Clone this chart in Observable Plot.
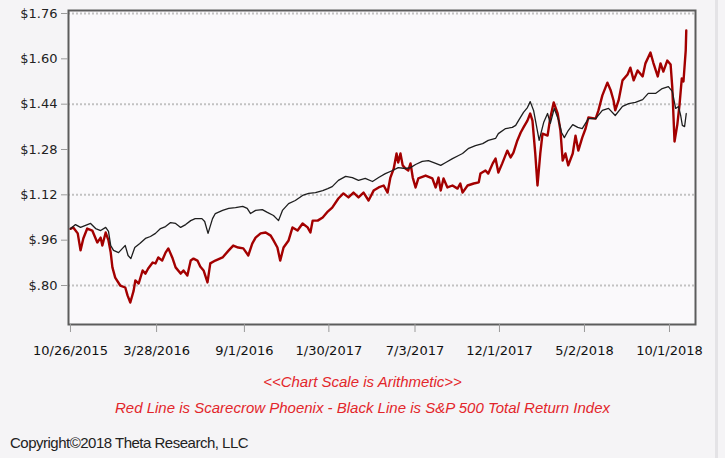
<!DOCTYPE html>
<html>
<head>
<meta charset="utf-8">
<script src="https://cdn.jsdelivr.net/npm/d3@7"></script>
<script src="https://cdn.jsdelivr.net/npm/@observablehq/plot@0.6"></script>
<style>
  html, body { margin: 0; padding: 0; }
  body { width: 725px; height: 458px; background: #f5f4f6; position: relative; overflow: hidden; }
  #chart { position: absolute; left: 0; top: 0; }
  .cap { position: absolute; left: 0; width: 725px; text-align: center; font-family: "Liberation Sans", Arial, sans-serif; font-style: italic; font-size: 15px; color: #e3262b; white-space: nowrap; }
  #copy { position: absolute; left: 10px; top: 434px; font-family: "Liberation Sans", Arial, sans-serif; font-size: 15px; letter-spacing: -0.5px; color: #222; white-space: nowrap; }
  #edge { position: absolute; left: 715px; top: 0; width: 3px; height: 458px; background: #e4e3e6; }
</style>
</head>
<body>
<div id="chart"></div>
<div class="cap" id="cap1" style="top:373px">&lt;&lt;Chart Scale is Arithmetic&gt;&gt;</div>
<div class="cap" id="cap2" style="top:399px">Red Line is Scarecrow Phoenix - Black Line is S&amp;P 500 Total Return Index</div>
<div id="copy">Copyright©2018 Theta Research, LLC</div>
<div id="edge"></div>
<script>
// S&P 500 Total Return Index (black)
const spDates = ["2015-10-26","2015-11-04","2015-11-13","2015-11-22","2015-12-01","2015-12-10","2015-12-19","2015-12-28","2016-01-02","2016-01-06","2016-01-11","2016-01-20","2016-01-27","2016-02-01","2016-02-06","2016-02-11","2016-02-18","2016-02-27","2016-03-08","2016-03-17","2016-03-26","2016-04-04","2016-04-13","2016-04-22","2016-05-01","2016-05-10","2016-05-19","2016-05-28","2016-06-05","2016-06-17","2016-06-22","2016-06-28","2016-07-06","2016-07-11","2016-07-24","2016-08-04","2016-08-16","2016-08-29","2016-09-06","2016-09-12","2016-09-21","2016-10-03","2016-10-12","2016-10-23","2016-11-01","2016-11-08","2016-11-19","2016-12-01","2016-12-14","2016-12-25","2017-01-06","2017-01-19","2017-01-28","2017-02-05","2017-02-16","2017-03-01","2017-03-13","2017-03-24","2017-04-05","2017-04-18","2017-04-29","2017-05-11","2017-05-24","2017-06-03","2017-06-16","2017-06-25","2017-07-04","2017-07-16","2017-07-27","2017-08-09","2017-08-18","2017-08-27","2017-09-08","2017-09-19","2017-09-26","2017-10-07","2017-10-19","2017-11-01","2017-11-11","2017-11-24","2017-11-29","2017-12-12","2017-12-24","2017-12-30","2018-01-04","2018-01-13","2018-01-20","2018-01-25","2018-01-31","2018-02-05","2018-02-10","2018-02-18","2018-02-25","2018-03-02","2018-03-09","2018-03-17","2018-03-22","2018-03-27","2018-04-03","2018-04-11","2018-04-20","2018-04-28","2018-05-09","2018-05-22","2018-06-03","2018-06-14","2018-06-26","2018-07-09","2018-07-20","2018-08-01","2018-08-14","2018-08-24","2018-09-06","2018-09-18","2018-09-29","2018-10-06","2018-10-12","2018-10-17","2018-10-21","2018-10-24","2018-10-28","2018-10-31"];
const spValues = [1.000,1.015,1.005,1.012,1.019,1.001,0.994,1.005,0.991,0.941,0.924,0.916,0.931,0.941,0.906,0.895,0.934,0.948,0.966,0.973,0.984,1.001,1.008,1.022,1.019,1.005,1.015,1.029,1.036,1.036,1.026,0.984,1.036,1.054,1.065,1.072,1.075,1.079,1.072,1.054,1.065,1.068,1.058,1.047,1.029,1.065,1.089,1.100,1.118,1.125,1.128,1.135,1.142,1.149,1.171,1.185,1.181,1.171,1.178,1.167,1.181,1.195,1.206,1.216,1.213,1.216,1.227,1.238,1.241,1.231,1.224,1.234,1.248,1.259,1.266,1.284,1.294,1.301,1.312,1.319,1.336,1.354,1.358,1.365,1.382,1.411,1.428,1.449,1.418,1.365,1.312,1.375,1.407,1.372,1.425,1.382,1.340,1.322,1.347,1.368,1.358,1.354,1.389,1.389,1.418,1.425,1.400,1.432,1.442,1.446,1.456,1.478,1.478,1.495,1.502,1.485,1.425,1.432,1.400,1.365,1.361,1.407];

// Scarecrow Phoenix (red)
const phxDates = ["2015-10-26","2015-10-31","2015-11-08","2015-11-13","2015-11-18","2015-11-25","2015-12-04","2015-12-13","2015-12-19","2015-12-22","2015-12-28","2016-01-02","2016-01-06","2016-01-09","2016-01-14","2016-01-23","2016-02-01","2016-02-05","2016-02-10","2016-02-16","2016-02-19","2016-02-25","2016-03-03","2016-03-08","2016-03-13","2016-03-21","2016-03-26","2016-03-31","2016-04-07","2016-04-13","2016-04-18","2016-04-25","2016-05-01","2016-05-10","2016-05-15","2016-05-22","2016-05-28","2016-06-02","2016-06-09","2016-06-14","2016-06-20","2016-06-27","2016-07-02","2016-07-11","2016-07-24","2016-08-04","2016-08-12","2016-08-21","2016-08-30","2016-09-08","2016-09-15","2016-09-21","2016-09-30","2016-10-09","2016-10-18","2016-10-23","2016-10-30","2016-11-04","2016-11-10","2016-11-19","2016-11-26","2016-12-05","2016-12-14","2016-12-23","2016-12-28","2017-01-01","2017-01-10","2017-01-19","2017-01-28","2017-02-05","2017-02-16","2017-02-25","2017-03-06","2017-03-15","2017-03-24","2017-04-02","2017-04-11","2017-04-20","2017-04-29","2017-05-08","2017-05-15","2017-05-20","2017-05-26","2017-05-31","2017-06-03","2017-06-07","2017-06-11","2017-06-16","2017-06-21","2017-06-25","2017-06-29","2017-07-04","2017-07-09","2017-07-22","2017-08-03","2017-08-09","2017-08-14","2017-08-18","2017-08-23","2017-08-30","2017-09-08","2017-09-17","2017-09-22","2017-09-26","2017-10-05","2017-10-16","2017-10-25","2017-10-28","2017-11-06","2017-11-11","2017-11-19","2017-11-24","2017-11-29","2017-12-06","2017-12-15","2017-12-21","2017-12-26","2018-01-02","2018-01-08","2018-01-13","2018-01-20","2018-01-25","2018-01-29","2018-02-03","2018-02-07","2018-02-12","2018-02-16","2018-02-25","2018-03-02","2018-03-08","2018-03-15","2018-03-20","2018-03-24","2018-03-29","2018-04-03","2018-04-11","2018-04-16","2018-04-21","2018-04-28","2018-05-04","2018-05-09","2018-05-22","2018-05-27","2018-06-03","2018-06-12","2018-06-18","2018-06-23","2018-06-26","2018-07-02","2018-07-09","2018-07-18","2018-07-23","2018-07-29","2018-08-05","2018-08-14","2018-08-19","2018-08-28","2018-09-02","2018-09-10","2018-09-15","2018-09-20","2018-09-27","2018-10-03","2018-10-06","2018-10-10","2018-10-15","2018-10-19","2018-10-23","2018-10-26","2018-10-30","2018-10-31"];
const phxValues = [1.000,1.005,0.984,0.924,0.966,1.001,0.994,0.952,0.969,0.941,0.987,0.959,0.916,0.864,0.828,0.800,0.793,0.765,0.740,0.782,0.818,0.807,0.853,0.842,0.860,0.881,0.878,0.899,0.888,0.916,0.931,0.899,0.864,0.842,0.853,0.835,0.888,0.895,0.888,0.867,0.853,0.811,0.878,0.888,0.899,0.924,0.941,0.934,0.931,0.906,0.948,0.969,0.984,0.987,0.976,0.959,0.934,0.888,0.934,0.959,1.005,0.994,1.019,1.005,0.987,1.029,1.029,1.040,1.061,1.075,1.107,1.125,1.111,1.128,1.111,1.128,1.100,1.135,1.146,1.153,1.128,1.181,1.213,1.266,1.234,1.266,1.224,1.213,1.206,1.231,1.181,1.146,1.178,1.188,1.178,1.146,1.181,1.135,1.178,1.146,1.153,1.142,1.160,1.128,1.153,1.160,1.164,1.195,1.206,1.195,1.231,1.248,1.199,1.231,1.276,1.252,1.269,1.312,1.340,1.358,1.382,1.407,1.382,1.266,1.153,1.266,1.336,1.329,1.393,1.446,1.407,1.347,1.241,1.266,1.224,1.266,1.329,1.276,1.322,1.354,1.393,1.389,1.418,1.471,1.516,1.488,1.453,1.418,1.453,1.524,1.545,1.569,1.524,1.559,1.538,1.584,1.622,1.587,1.538,1.584,1.555,1.594,1.580,1.499,1.308,1.368,1.439,1.531,1.520,1.629,1.700];

const yTicks = [0.80, 0.96, 1.12, 1.28, 1.44, 1.60, 1.76];
const gridValues = [0.80, 1.12, 1.44, 1.76];
const xTickDates = ["2015-10-26","2016-03-28","2016-09-01","2017-01-30","2017-07-03","2017-12-01","2018-05-02","2018-10-01"];

const sp = spDates.map((d, i) => ({date: new Date(d), value: spValues[i]}));
const phx = phxDates.map((d, i) => ({date: new Date(d), value: phxValues[i]}));

const fmtY = v => "$" + (v >= 1 ? v.toFixed(2) : v.toFixed(2).slice(1));
const fmtX = d => `${d.getUTCMonth() + 1}/${d.getUTCDate()}/${d.getUTCFullYear()}`;

const chart = Plot.plot({
  width: 725,
  height: 365,
  marginLeft: 68,
  marginRight: 30,
  marginTop: 10,
  marginBottom: 41,
  style: {background: "transparent", fontFamily: "DejaVu Sans", fontSize: "13px", color: "#222"},
  x: {type: "utc", domain: [new Date("2015-10-22T12:00Z"), new Date("2018-11-16T12:00Z")]},
  y: {domain: [0.6624, 1.7706]},
  marks: [
    Plot.frame({fill: "#faf9fb"}),
    Plot.ruleY(gridValues, {stroke: "#c2c2c2", strokeWidth: 2, strokeDasharray: "2,2"}),
    Plot.lineY(phx, {x: "date", y: "value", stroke: "#a30000", strokeWidth: 2.4}),
    Plot.lineY(sp, {x: "date", y: "value", stroke: "#1e1e1e", strokeWidth: 1.3}),
    Plot.frame({stroke: "#5c5c5c", strokeWidth: 2}),
    Plot.axisY({ticks: yTicks, tickFormat: fmtY, tickSize: 7, tickPadding: 4, stroke: "#9a9a9a", fill: "#222", label: null}),
    Plot.axisX({ticks: xTickDates.map(d => new Date(d)), tickFormat: fmtX, tickSize: 8, tickPadding: 13, stroke: "#9a9a9a", fill: "#111", label: null})
  ]
});
document.getElementById("chart").appendChild(chart);
</script>
</body>
</html>
